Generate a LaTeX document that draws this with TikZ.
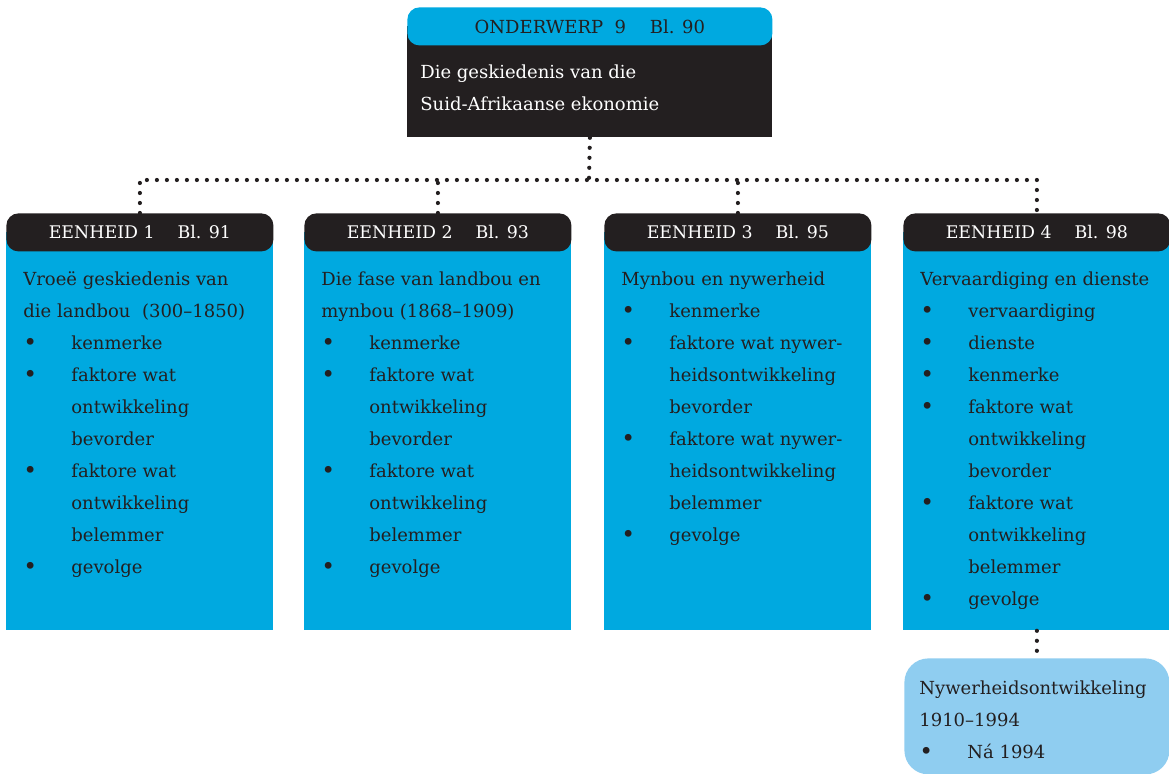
\documentclass[tikz,border=0pt]{standalone}
\usepackage{fontspec}
\setmainfont{DejaVu Serif}
\usetikzlibrary{positioning}

\definecolor{unitblue}{HTML}{00A9E0}
\definecolor{inkdark}{HTML}{231F20}
\definecolor{paleblue}{HTML}{8FCDF0}

% bullet and hanging indent for the lists
\newcommand{\bul}{\makebox[24pt][l]{\raisebox{-0.7pt}{\scalebox{1.3}{\textbullet}}}}
\newcommand{\cnt}{\hspace*{24pt}}

\tikzset{
  darkbody/.style={fill=inkdark, inner sep=0pt, minimum width=182.5pt, minimum height=55.5pt, anchor=north west},
  bluehead/.style={fill=unitblue, text=inkdark, rounded corners=6pt, inner sep=0pt, minimum width=182.5pt, minimum height=19pt, anchor=north west, font=\fontsize{9}{11}\selectfont},
  unitbody/.style={fill=unitblue, inner sep=0pt, minimum width=133.5pt, minimum height=199pt, anchor=north west},
  unithead/.style={fill=inkdark, text=white, rounded corners=6pt, inner sep=0pt, minimum width=133.5pt, minimum height=19pt, anchor=north west, font=\fontsize{8.7}{11}\selectfont},
  listtext/.style={anchor=north west, inner sep=0pt, align=left, text=inkdark, font=\fontsize{9}{16}\selectfont},
  palebox/.style={fill=paleblue, rounded corners=12pt, inner sep=0pt, minimum width=132.5pt, minimum height=58pt, anchor=north west},
  dotline/.style={draw=inkdark, line width=2.1pt, dash pattern=on 0pt off 5pt, line cap=round}
}

\begin{document}
\begin{tikzpicture}[x=0.5pt, y=-0.5pt]
    \useasboundingbox (0,0) rectangle (1169,774);

    % Onderwerp
    \node [darkbody]  (topbody) at (407,26) {};
    \node [bluehead]  (tophead) at (407,7)  {ONDERWERP\ \ 9\quad\ Bl. 90};
    \node [listtext, text=white] (toptext) at (420,64) {Die geskiedenis van die\\Suid-Afrikaanse ekonomie};

    % Eenhede
    \foreach \i/\xl/\pg in {1/6/91, 2/304/93, 3/604/95, 4/903/98} {
        \node [unitbody] (u\i) at (\xl,232) {};
        \node [unithead] (h\i) at (\xl,213) {EENHEID \i\quad\ Bl. \pg};
    }

    \node [listtext] (t1) at (23,271) {Vroeë geskiedenis van\\die landbou\ \ (300–1850)\\
        \bul kenmerke\\\bul faktore wat\\\cnt ontwikkeling\\\cnt bevorder\\
        \bul faktore wat\\\cnt ontwikkeling\\\cnt belemmer\\\bul gevolge};
    \node [listtext] (t2) at (321,271) {Die fase van landbou en\\mynbou (1868–1909)\\
        \bul kenmerke\\\bul faktore wat\\\cnt ontwikkeling\\\cnt bevorder\\
        \bul faktore wat\\\cnt ontwikkeling\\\cnt belemmer\\\bul gevolge};
    \node [listtext] (t3) at (621,271) {Mynbou en nywerheid\\
        \bul kenmerke\\\bul faktore wat nywer-\\\cnt heidsontwikkeling\\\cnt bevorder\\
        \bul faktore wat nywer-\\\cnt heidsontwikkeling\\\cnt belemmer\\\bul gevolge};
    \node [listtext] (t4) at (920,271) {Vervaardiging en dienste\\
        \bul vervaardiging\\\bul dienste\\\bul kenmerke\\
        \bul faktore wat\\\cnt ontwikkeling\\\cnt bevorder\\
        \bul faktore wat\\\cnt ontwikkeling\\\cnt belemmer\\\bul gevolge};

    % Nywerheidsontwikkeling
    \node [palebox]  (nyw)  at (904,658) {};
    \node [listtext] (t5)   at (919,680) {Nywerheidsontwikkeling\\1910–1994\\\bul Ná 1994};

    % Paths
    \coordinate (hub) at (589,180);
    \draw [dotline] (topbody.south) -- (hub);
    \draw [dotline] (h1.north) |- (hub) -| (h4.north);
    \draw [dotline] (h2.north) -- (h2.north |- hub);
    \draw [dotline] (h3.north) -- (h3.north |- hub);
    \draw [dotline] (u4.south) -- (nyw.north);
\end{tikzpicture}
\end{document}
